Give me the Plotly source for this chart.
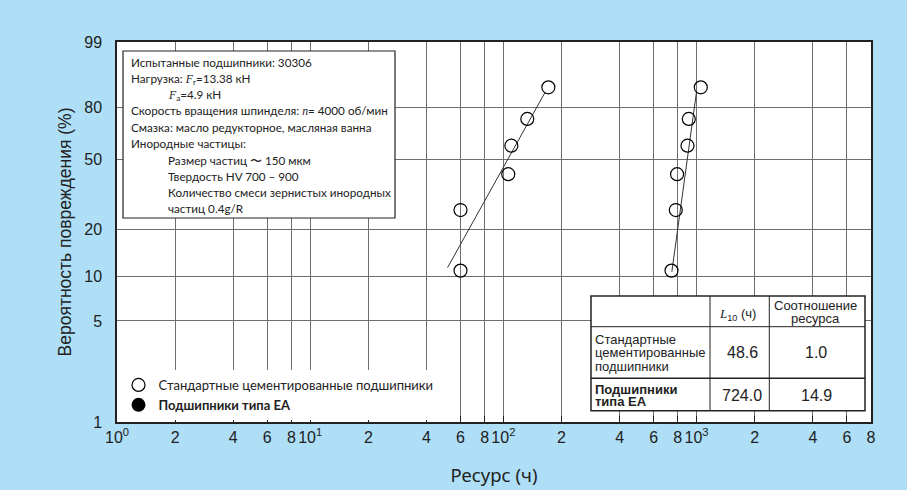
import numpy as np
import plotly.graph_objects as go

# ---------------- data ----------------
F_rank = [10.9, 26.4, 42.1, 57.9, 73.6, 89.1]          # median ranks, %
life_std = [60, 60, 106, 110, 133, 171]                  # standard carburized, h
life_ea = [742, 781, 793, 898, 912, 1052]                # EA type, h
fit_std_life = [51.4, 164]
fit_std_F = [11.4, 86.9]
fit_ea_life = [745, 1000]
fit_ea_F = [10.7, 87.3]

y_ticks = [1, 5, 10, 20, 50, 80, 99]
x_ticks = [1, 2, 4, 6, 8, 10, 20, 40, 60, 80, 100, 200, 400, 600, 800,
           1000, 2000, 4000, 6000, 8000]
x_ticktext = ['10<sup>0</sup>', '2', '4', '6', '8', '10<sup>1</sup>', '2', '4', '6', '8',
              '10<sup>2</sup>', '2', '4', '6', '8', '10<sup>3</sup>', '2', '4', '6', '8']

legend_names = ['Стандартные цементированные подшипники', '<b>Подшипники типа ЕА</b>']

SERIF_I = '<span style="font-family:Liberation Serif"><i>{}</i></span>'
info_lines = [
    ('Испытанные подшипники: 30306', 0),
    ('Нагрузка: ' + SERIF_I.format('F') + '<sub>r</sub>=13.38 кН', 0),
    (SERIF_I.format('F') + '<sub>a</sub>=4.9 кН', 1),
    ('Скорость вращения шпинделя: ' + SERIF_I.format('n') + '= 4000 об/мин', 0),
    ('Смазка: масло редукторное, масляная ванна', 0),
    ('Инородные частицы:', 0),
    ('Размер частиц 〜 150 мкм', 1),
    ('Твердость HV 700 – 900', 1),
    ('Количество смеси зернистых инородных', 1),
    ('частиц 0.4g/R', 1),
]

table_header_L10 = SERIF_I.format('L') + '<sub>10</sub> (ч)'
table_header_ratio = ['Соотношение', 'ресурса']
table_rows = [['Стандартные', 'цементированные', 'подшипники'],
              ['<b>Подшипники</b>', '<b>типа ЕА</b>']]
table_L10 = ['48.6', '724.0']
table_ratio = ['1.0', '14.9']


def weib(F):
    return np.log(-np.log(1 - np.asarray(F, dtype=float) / 100.0))


# ---------------- layout helpers (pixel -> paper) ----------------
W, H = 907, 490
L, R, T, B = 117, 871, 42, 422


def px(x):
    return (x - L) / (R - L)


def py(y):
    return (B - y) / (B - T)


BG = '#AEDFF7'
TXT = '#222222'
HUM = 'Lato, Noto Sans, sans-serif'
ARIAL = 'Liberation Sans, Arial, sans-serif'
NARROW = 'Liberation Sans Narrow, Liberation Sans, Arial, sans-serif'

fig = go.Figure()

circ = dict(symbol='circle-open', size=13, color='black', line=dict(width=1.2, color='black'))
fig.add_trace(go.Scatter(x=fit_std_life, y=weib(fit_std_F), mode='lines',
                         line=dict(color='#333', width=1), showlegend=False, hoverinfo='skip'))
fig.add_trace(go.Scatter(x=fit_ea_life, y=weib(fit_ea_F), mode='lines',
                         line=dict(color='#333', width=1), showlegend=False, hoverinfo='skip'))
fig.add_trace(go.Scatter(x=life_std, y=weib(F_rank), mode='markers', marker=circ, showlegend=False))
fig.add_trace(go.Scatter(x=life_ea, y=weib(F_rank), mode='markers', marker=circ, showlegend=False))

# legend entries
fig.add_trace(go.Scatter(x=[None], y=[None], mode='markers', name=legend_names[0],
                         marker=dict(symbol='circle-open', size=13, color='black',
                                     line=dict(width=1.2, color='black'))))
fig.add_trace(go.Scatter(x=[None], y=[None], mode='markers', name=legend_names[1],
                         marker=dict(symbol='circle', size=14, color='black')))

shapes = []
annotations = []


def note(x, y, text, anchor='left', font=HUM, size=12):
    annotations.append(dict(xref='paper', yref='paper', x=px(x), y=py(y), text=text,
                            showarrow=False, xanchor=anchor, yanchor='middle', borderpad=0,
                            font=dict(family=font, size=size, color=TXT)))


# info box
shapes.append(dict(type='rect', xref='paper', yref='paper', x0=px(123), x1=px(395),
                   y0=py(51), y1=py(218), fillcolor='white', line=dict(color='#222', width=1.2)))
for i, (txt, ind) in enumerate(info_lines):
    note(167 if ind else 130, 62.3 + 16.2 * i, txt, size=11.7)

# table
tx0, tx1, ty0, ty1 = 591, 865, 296, 410.7
cx1, cx2 = 710, 769.3
ry1, ry2 = 326.7, 378.3
shapes.append(dict(type='rect', xref='paper', yref='paper', x0=px(tx0), x1=px(tx1),
                   y0=py(ty0), y1=py(ty1), fillcolor='white', line=dict(color='#222', width=1.5)))
for cx in (cx1, cx2):
    shapes.append(dict(type='line', xref='paper', yref='paper', x0=px(cx), x1=px(cx),
                       y0=py(ty0), y1=py(ty1), line=dict(color='#222', width=1)))
for ry, lw in ((ry1, 1), (ry2, 1.5)):
    shapes.append(dict(type='line', xref='paper', yref='paper', x0=px(tx0), x1=px(tx1),
                       y0=py(ry), y1=py(ry), line=dict(color='#222', width=lw)))

note(737, 314, table_header_L10, anchor='center', font=ARIAL, size=13)
for j, t in enumerate(table_header_ratio):
    note(815, 305 + 13.3 * j, t, anchor='center', font=ARIAL, size=13)
row_line_y = [[339.3, 352.7, 366.0], [389.3, 401.5]]
row_cy = [352.7, 395.3]
for i in range(2):
    for t, yy in zip(table_rows[i], row_line_y[i]):
        note(594, yy, t, font=ARIAL, size=13)
    note(742, row_cy[i], table_L10[i], anchor='center', font=ARIAL, size=16)
    note(816, row_cy[i], table_ratio[i], anchor='center', font=ARIAL, size=16)

grid = dict(showgrid=True, gridcolor='#6f6f6f', gridwidth=1.3)

fig.update_layout(
    width=W, height=H,
    margin=dict(l=L, r=W - R, t=T, b=H - B, autoexpand=False),
    paper_bgcolor=BG, plot_bgcolor='white',
    shapes=shapes, annotations=annotations,
    showlegend=True,
    legend=dict(x=px(118.5), y=py(370), xanchor='left', yanchor='top', bgcolor='white',
                borderwidth=0, font=dict(family=HUM, size=13, color=TXT),
                tracegroupgap=0, itemwidth=30),
    xaxis=dict(type='log', range=[0, np.log10(8000)], tickmode='array', tickvals=x_ticks,
               ticktext=x_ticktext, showline=True, linecolor='#222', linewidth=1.5, mirror=True,
               ticks='inside', ticklen=6, tickcolor='#222', tickwidth=1, automargin=False,
               tickfont=dict(family=NARROW, size=16, color=TXT),
               title=dict(text='Ресурс (ч)', font=dict(family='Noto Sans, Open Sans, sans-serif',
                                                        size=18.5, color=TXT), standoff=24),
               **grid),
    yaxis=dict(range=[float(weib(1)), float(weib(99))], tickmode='array',
               tickvals=[float(v) for v in weib(y_ticks)], ticktext=[str(v) for v in y_ticks],
               showline=True, linecolor='#222', linewidth=1.5, mirror=True, zeroline=False,
               ticks='', ticklabelstandoff=10, automargin=False,
               tickfont=dict(family=NARROW, size=16, color=TXT),
               title=dict(text='Вероятность повреждения (%)', font=dict(family=ARIAL, size=17.5, color=TXT),
                          standoff=8),
               **grid),
)

fig.write_html('out.html')
